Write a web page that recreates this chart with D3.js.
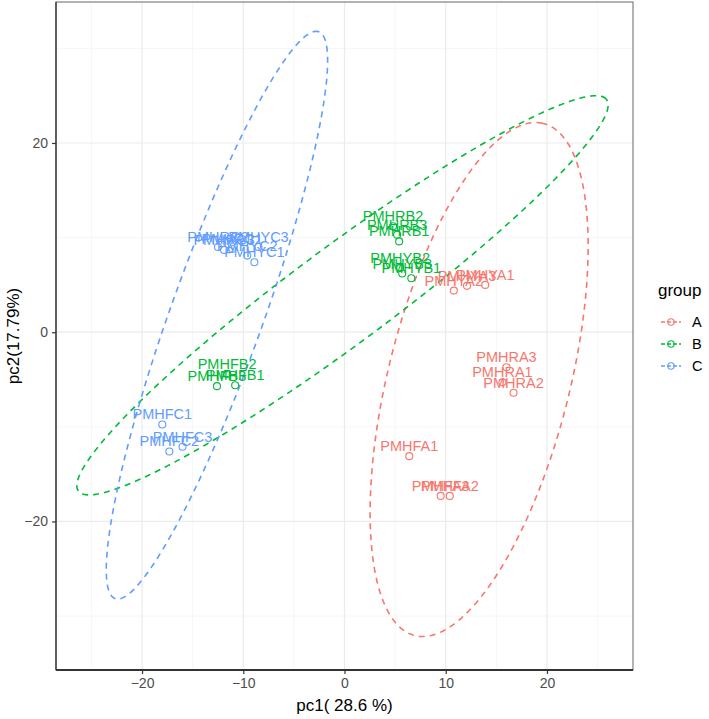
<!DOCTYPE html>
<html>
<head>
<meta charset="utf-8">
<script src="https://cdn.jsdelivr.net/npm/d3@7"></script>
<style>
  body { margin: 0; background: #fff; }
  text { font-family: "Liberation Sans", Arial, sans-serif; }
</style>
</head>
<body>
<svg id="chart" width="709" height="719"></svg>
<script>
// ---- data ----
const sampleNames = ["PMHRA1","PMHRA2","PMHRA3","PMHFA1","PMHFA2","PMHFA3","PMHYA1","PMHYA2","PMHYA3",
                     "PMHRB1","PMHRB2","PMHRB3","PMHYB1","PMHYB2","PMHYB3","PMHFB1","PMHFB2","PMHFB3",
                     "PMHRC1","PMHRC2","PMHRC3","PMHYC1","PMHYC2","PMHYC3","PMHFC1","PMHFC2","PMHFC3"];
const sampleGroup = ["A","A","A","A","A","A","A","A","A",
                     "B","B","B","B","B","B","B","B","B",
                     "C","C","C","C","C","C","C","C","C"];
const pc1Values = [15.6, 16.7, 16.0, 6.4, 10.4, 9.5, 13.9, 10.8, 12.1,
                   5.4, 4.8, 5.2, 6.6, 5.5, 5.7, -10.8, -11.6, -12.6,
                   -11.1, -12.5, -11.9, -8.9, -9.6, -8.5, -18.0, -17.3, -16.0];
const pc2Values = [-5.3, -6.4, -3.7, -13.1, -17.3, -17.3, 5.0, 4.4, 4.9,
                   9.6, 11.2, 10.3, 5.7, 6.8, 6.2, -5.6, -4.4, -5.7,
                   8.8, 9.0, 8.7, 7.4, 8.1, 9.0, -9.75, -12.6, -12.1];

const groups = ["A","B","C"];
const groupColors = ["#F8766D","#00BA38","#619CFF"];
// ellipse parameters (data units): centre, semi-axes, rotation (deg)
const ellipseCx = [13.3, -0.2, -12.6];
const ellipseCy = [-5.0, 3.9, 1.8];
const ellipseSemiMajor = [27.8, 33.3, 31.6];
const ellipseSemiMinor = [9.0, 5.0, 4.6];
const ellipseAngle = [77, 38.5, 71.5];

const xTicks = [-20, -10, 0, 10, 20];
const xMinor = [-25, -15, -5, 5, 15, 25];
const yTicks = [-20, 0, 20];
const yMinor = [-30, -10, 10, 30];
const xTitle = "pc1( 28.6 %)";
const yTitle = "pc2(17.79%)";
const legendTitle = "group";

// ---- layout ----
const svg = d3.select("#chart");
const panel = {left: 56, right: 633, top: 2, bottom: 670};
const x = d3.scaleLinear().domain([-28.5, 28.5]).range([panel.left, panel.right]);
const y = d3.scaleLinear().domain([-35.7, 34.9]).range([panel.bottom, panel.top]);
const color = d3.scaleOrdinal().domain(groups).range(groupColors);

// grid
const grid = svg.append("g");
grid.selectAll(".xmin").data(xMinor).join("line")
  .attr("x1", d => x(d)).attr("x2", d => x(d)).attr("y1", panel.top).attr("y2", panel.bottom)
  .attr("stroke", "#f2f2f2").attr("stroke-width", 0.7);
grid.selectAll(".ymin").data(yMinor).join("line")
  .attr("y1", d => y(d)).attr("y2", d => y(d)).attr("x1", panel.left).attr("x2", panel.right)
  .attr("stroke", "#f2f2f2").attr("stroke-width", 0.7);
grid.selectAll(".xmaj").data(xTicks).join("line")
  .attr("x1", d => x(d)).attr("x2", d => x(d)).attr("y1", panel.top).attr("y2", panel.bottom)
  .attr("stroke", "#ebebeb").attr("stroke-width", 1.2);
grid.selectAll(".ymaj").data(yTicks).join("line")
  .attr("y1", d => y(d)).attr("y2", d => y(d)).attr("x1", panel.left).attr("x2", panel.right)
  .attr("stroke", "#ebebeb").attr("stroke-width", 1.2);

// ellipses
const ellLine = d3.line().x(d => x(d[0])).y(d => y(d[1]));
groups.forEach((g, i) => {
  const th = ellipseAngle[i] * Math.PI / 180;
  const pts = d3.range(0, 361, 2).map(t => {
    const a = t * Math.PI / 180;
    const u = ellipseSemiMajor[i] * Math.cos(a), v = ellipseSemiMinor[i] * Math.sin(a);
    return [ellipseCx[i] + u * Math.cos(th) - v * Math.sin(th),
            ellipseCy[i] + u * Math.sin(th) + v * Math.cos(th)];
  });
  svg.append("path").attr("d", ellLine(pts)).attr("fill", "none")
    .attr("stroke", groupColors[i]).attr("stroke-width", 1.6)
    .attr("stroke-dasharray", "6,5");
});

// points & labels
const rows = sampleNames.map((n, i) => ({name: n, g: sampleGroup[i], x: pc1Values[i], y: pc2Values[i]}));
svg.append("g").selectAll("circle").data(rows).join("circle")
  .attr("cx", d => x(d.x)).attr("cy", d => y(d.y)).attr("r", 3.5)
  .attr("fill", "none").attr("stroke", d => color(d.g)).attr("stroke-width", 1.1);
svg.append("g").selectAll("text").data(rows).join("text")
  .attr("x", d => x(d.x)).attr("y", d => y(d.y) - 5)
  .attr("text-anchor", "middle").attr("font-size", 14.5)
  .attr("fill", d => color(d.g)).text(d => d.name);

// panel border + axis lines
svg.append("rect").attr("x", panel.left).attr("y", panel.top)
  .attr("width", panel.right - panel.left).attr("height", panel.bottom - panel.top)
  .attr("fill", "none").attr("stroke", "#666").attr("stroke-width", 1);
svg.append("line").attr("x1", panel.left).attr("x2", panel.right).attr("y1", panel.bottom).attr("y2", panel.bottom)
  .attr("stroke", "#333").attr("stroke-width", 2);
svg.append("line").attr("x1", panel.left).attr("x2", panel.left).attr("y1", panel.top).attr("y2", panel.bottom)
  .attr("stroke", "#333").attr("stroke-width", 1.3);

// axes
const xAxis = svg.append("g").attr("transform", `translate(0,${panel.bottom})`)
  .call(d3.axisBottom(x).tickValues(xTicks).tickSize(4).tickPadding(4).tickFormat(d3.format("d")));
const yAxis = svg.append("g").attr("transform", `translate(${panel.left},0)`)
  .call(d3.axisLeft(y).tickValues(yTicks).tickSize(4).tickPadding(4).tickFormat(d3.format("d")));
[xAxis, yAxis].forEach(a => {
  a.select(".domain").remove();
  a.selectAll(".tick line").attr("stroke", "#333").attr("stroke-width", 1.2);
  a.selectAll(".tick text").attr("fill", "#4d4d4d").attr("font-size", 14)
    .attr("font-family", "Liberation Sans, Arial, sans-serif");
});

// titles
svg.append("text").attr("x", (panel.left + panel.right) / 2).attr("y", 711)
  .attr("text-anchor", "middle").attr("font-size", 17).attr("fill", "#000").text(xTitle);
svg.append("text").attr("transform", `translate(19,${(panel.top + panel.bottom) / 2}) rotate(-90)`)
  .attr("text-anchor", "middle").attr("font-size", 17).attr("fill", "#000").text(yTitle);

// legend
const lg = svg.append("g").attr("transform", "translate(658,0)");
lg.append("text").attr("x", 0).attr("y", 296).attr("font-size", 17).attr("fill", "#000").text(legendTitle);
groups.forEach((g, i) => {
  const cy = 322 + i * 22;
  lg.append("line").attr("x1", 3).attr("x2", 23).attr("y1", cy).attr("y2", cy)
    .attr("stroke", groupColors[i]).attr("stroke-width", 1.6).attr("stroke-dasharray", "4,2");
  lg.append("circle").attr("cx", 13).attr("cy", cy).attr("r", 3.2)
    .attr("fill", "none").attr("stroke", groupColors[i]).attr("stroke-width", 1.1);
  lg.append("text").attr("x", 34).attr("y", cy + 5).attr("font-size", 14.5).attr("fill", "#000").text(g);
});
</script>
</body>
</html>
